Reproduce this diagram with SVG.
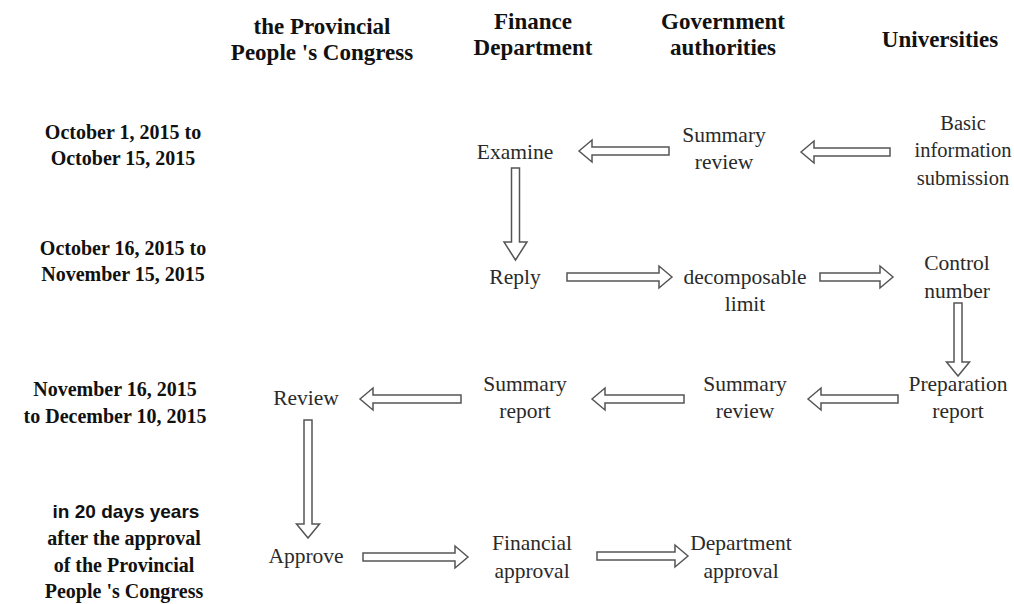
<svg xmlns="http://www.w3.org/2000/svg" width="1014" height="604" viewBox="0 0 1014 604">
<style>
.hd{font-family:"Liberation Serif",serif;font-weight:bold;font-size:23px;fill:#111;text-anchor:middle}
.lt{font-family:"Liberation Serif",serif;font-weight:bold;font-size:20px;fill:#111;text-anchor:middle}
.ls{font-family:"Liberation Sans",sans-serif;font-weight:bold;font-size:19px;fill:#111;text-anchor:middle}
.nd{font-family:"Liberation Serif",serif;font-size:21.5px;fill:#2a2a2a;text-anchor:middle}
.sm{font-size:20.5px}
.arr{fill:#fff;stroke:#555;stroke-width:1.5;stroke-linejoin:miter}
</style>
<rect width="1014" height="604" fill="#fff"/>
<g id="headers">
<text class="hd" x="322" y="34">the Provincial</text>
<text class="hd" x="322" y="60">People 's Congress</text>
<text class="hd" x="533" y="29">Finance</text>
<text class="hd" x="533" y="55">Department</text>
<text class="hd" x="723" y="29">Government</text>
<text class="hd" x="723" y="55">authorities</text>
<text class="hd" x="940" y="47">Universities</text>
</g>
<g id="periods">
<text class="lt" x="123" y="139">October 1, 2015 to</text>
<text class="lt" x="123" y="165">October 15, 2015</text>
<text class="lt" x="123" y="255">October 16, 2015 to</text>
<text class="lt" x="123" y="281">November 15, 2015</text>
<text class="lt" x="115" y="396">November 16, 2015</text>
<text class="lt" x="115" y="423">to December 10, 2015</text>
<text class="ls" x="126" y="518">in 20 days years</text>
<text class="lt" x="124" y="545">after the approval</text>
<text class="lt" x="124" y="572">of the Provincial</text>
<text class="lt" x="124" y="598">People 's Congress</text>
</g>
<g id="n-examine"><text class="nd" x="515" y="159">Examine</text></g>
<g id="n-summary-review-1"><text class="nd" x="724" y="142">Summary</text><text class="nd" x="724" y="169">review</text></g>
<g id="n-basic-info"><text class="nd sm" x="963" y="130">Basic</text><text class="nd sm" x="963" y="157">information</text><text class="nd sm" x="963" y="185">submission</text></g>
<g id="n-reply"><text class="nd" x="515" y="284">Reply</text></g>
<g id="n-decomposable"><text class="nd" x="745" y="284">decomposable</text><text class="nd" x="745" y="311">limit</text></g>
<g id="n-control"><text class="nd" x="957" y="270">Control</text><text class="nd" x="957" y="298">number</text></g>
<g id="n-review"><text class="nd" x="306" y="405">Review</text></g>
<g id="n-summary-report"><text class="nd" x="525" y="391">Summary</text><text class="nd" x="525" y="418">report</text></g>
<g id="n-summary-review-2"><text class="nd" x="745" y="391">Summary</text><text class="nd" x="745" y="418">review</text></g>
<g id="n-preparation"><text class="nd" x="958" y="391">Preparation</text><text class="nd" x="958" y="418">report</text></g>
<g id="n-approve"><text class="nd" x="306" y="563">Approve</text></g>
<g id="n-financial"><text class="nd" x="532" y="550">Financial</text><text class="nd" x="532" y="578">approval</text></g>
<g id="n-department"><text class="nd" x="741" y="550">Department</text><text class="nd" x="741" y="578">approval</text></g>
<g id="connectors">
<polygon class="arr" points="579,151 592,140 592,147 669,147 669,155 592,155 592,162"/>
<polygon class="arr" points="801,152 814,141 814,148 890,148 890,156 814,156 814,163"/>
<polygon class="arr" points="515.5,260 504,242 511.5,242 511.5,168 519.5,168 519.5,242 527,242"/>
<polygon class="arr" points="672,277 659,266 659,273 567,273 567,281 659,281 659,288"/>
<polygon class="arr" points="893,277 880,266 880,273 820,273 820,281 880,281 880,288"/>
<polygon class="arr" points="958,376 946.5,362 954,362 954,303 962,303 962,362 969.5,362"/>
<polygon class="arr" points="808,399 821,388 821,395 898,395 898,403 821,403 821,410"/>
<polygon class="arr" points="592,399 605,388 605,395 684,395 684,403 605,403 605,410"/>
<polygon class="arr" points="360,399 373,388 373,395 461,395 461,403 373,403 373,410"/>
<polygon class="arr" points="308,538 296.5,524 304,524 304,420 312,420 312,524 319.5,524"/>
<polygon class="arr" points="468,557 455,546 455,553 363,553 363,561 455,561 455,568"/>
<polygon class="arr" points="688,556 675,545 675,552 597,552 597,560 675,560 675,567"/>
</g>
</svg>
